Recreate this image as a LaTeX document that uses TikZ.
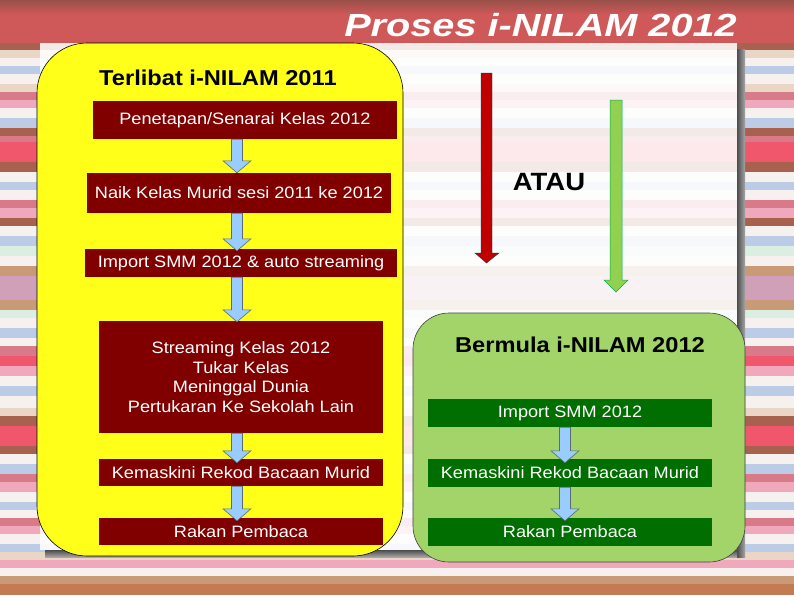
\documentclass[tikz,border=0pt]{standalone}
\usepackage{fontspec}
\setmainfont{Liberation Sans}[FakeStretch=1.1]
\newfontfamily\titlefont{Liberation Sans}[FakeStretch=1.24]
\usetikzlibrary{calc}
\usepackage{xcolor}

\definecolor{boxred}{HTML}{800000}
\definecolor{boxgreen}{HTML}{006E00}
\definecolor{panelyellow}{HTML}{FFFF1A}
\definecolor{panelgreen}{HTML}{A2D46A}
\definecolor{flowblue}{HTML}{99CCFF}
\definecolor{flowedge}{HTML}{5A6A7A}
\definecolor{bgbrown}{HTML}{985048}
\definecolor{bgred}{HTML}{CF5859}
\definecolor{sBrown}{HTML}{A8604F}
\definecolor{sBeige}{HTML}{EAD6C6}
\definecolor{sWhite}{HTML}{F6F0EE}
\definecolor{sBlue}{HTML}{BCCBE6}
\definecolor{sRose}{HTML}{D87A88}
\definecolor{sPink}{HTML}{F0A8BC}
\definecolor{sRed}{HTML}{F0566C}
\definecolor{sMint}{HTML}{DCEDE2}
\definecolor{sTan}{HTML}{C89A78}
\definecolor{sMauve}{HTML}{CFA0B8}
\definecolor{sOrange}{HTML}{C47A52}

% block arrow from one box down to the next: [overlap]{lane}{from}{to}
\newcommand{\blockdown}[4][0]{%
  \draw[flow] let \p1=(#2 |- #3.south), \p2=(#2 |- #4.north) in
    (\x1-5.5pt,\y1) -- (\x1+5.5pt,\y1) -- (\x1+5.5pt,\y2+12pt-#1pt)
    -- (\x1+14pt,\y2+12pt-#1pt) -- (\x1,\y2-#1pt) -- (\x1-14pt,\y2+12pt-#1pt)
    -- (\x1-5.5pt,\y2+12pt-#1pt) -- cycle;}

\begin{document}
\begin{tikzpicture}[x=1pt,y=-1pt,
                    redbox/.style={fill=boxred, text=white, inner sep=0pt, align=center,
                                   font=\fontsize{16.5}{19.8}\selectfont},
                    greenbox/.style={fill=boxgreen, text=white, inner sep=0pt, align=center,
                                     minimum width=284pt, minimum height=28pt,
                                     font=\fontsize{16.5}{19.8}\selectfont},
                    heading/.style={inner sep=0pt, font=\bfseries\fontsize{21.5}{25}\selectfont},
                    flow/.style={fill=flowblue, draw=flowedge, line width=0.6pt}]
    \useasboundingbox (0,0) rectangle (794,595);

    % Background
    \fill[top color=bgbrown, bottom color=bgred] (0,0) rectangle (794,14);
    \fill[bgred] (0,14) rectangle (794,43);
    \foreach \ya/\yb/\col in {43/50/sBrown, 50/58/sBeige, 58/66/sWhite, 66/74/sBlue,
        74/84/sWhite, 84/92/sBeige, 92/100/sRose, 100/108/sPink, 108/118/sWhite,
        118/128/sBlue, 128/136/sBrown, 136/142/sRose, 142/162/sRed, 162/172/sBrown,
        172/182/sWhite, 182/190/sBlue, 190/200/sWhite, 200/208/sRose, 208/218/sPink,
        218/226/sBrown, 226/236/sWhite, 236/246/sBlue, 246/256/sMint, 256/266/sWhite,
        266/276/sTan, 276/300/sMauve, 300/310/sTan, 310/318/sMint, 318/328/sWhite,
        328/338/sBlue, 338/346/sWhite, 346/356/sRose, 356/366/sRed, 366/376/sPink,
        376/386/sWhite, 386/396/sBlue, 396/408/sWhite, 408/416/sBeige, 416/426/sBrown,
        426/446/sRed, 446/454/sBrown, 454/464/sWhite, 464/474/sBlue, 474/482/sRose,
        482/492/sPink, 492/502/sWhite, 502/510/sBlue, 510/518/sWhite, 518/526/sRose,
        526/534/sPink, 534/544/sWhite, 544/552/sBlue, 552/560/sBeige, 560/568/sPink,
        568/576/sWhite, 576/584/sTan, 584/595/sOrange}
      \fill[\col] (0,\ya) rectangle (794,\yb);
    \fill[left color=black!70, right color=black!35] (737,49) rectangle (745,557);
    \fill[top color=black!70, bottom color=black!35] (45,550) rectangle (737,557);
    \fill[white, opacity=0.87] (40,43) rectangle (737,550);

    % Title
    \node[text=white, inner sep=0pt, anchor=base east,
          font=\titlefont\bfseries\itshape\fontsize{32}{38}\selectfont] (judul) at (737,36) {Proses i-NILAM 2012};

    % Panels
    \draw[fill=panelyellow, line width=0.6pt] (37,43) [rounded corners=50pt] rectangle (403,556);
    \draw[fill=panelgreen, draw=black!75, line width=0.6pt] (413,313) [rounded corners=36pt] rectangle (745,562);

    % Side arrows
    \draw[fill={rgb,255:red,192;green,0;blue,0}, draw=teal!60!black, line width=0.4pt]
      (481,73) -- (492,73) -- (492,253) -- (499,253) -- (486.5,263) -- (475,253) -- (481,253) -- cycle;
    \draw[fill={rgb,255:red,146;green,208;blue,80}, draw={rgb,255:red,0;green,176;blue,80}, line width=0.5pt]
      (610,100) -- (622,100) -- (622,280) -- (628,280) -- (616,292) -- (604,280) -- (610,280) -- cycle;

    % Place nodes
    \node[heading, anchor=west] (terlibat) at (99,78) {Terlibat i-NILAM 2011};
    \node[heading] (bermula) at (580,345) {Bermula i-NILAM 2012};
    \node[inner sep=0pt, font=\bfseries\fontsize{25}{30}\selectfont] (atau) at (549,182) {ATAU};

    \node[redbox, minimum width=304pt, minimum height=38pt] (penetapan) at (245,120) {Penetapan/Senarai Kelas 2012};
    \node[redbox, minimum width=304pt, minimum height=40pt] (naik) at (239,193) {Naik Kelas Murid sesi 2011 ke 2012};
    \node[redbox, minimum width=312pt, minimum height=28pt] (import) at (241,263) {Import SMM 2012 \& auto streaming};
    \node[redbox, minimum width=284pt, minimum height=112pt] (streaming) at (241,377)
      {Streaming Kelas 2012\\Tukar Kelas\\Meninggal Dunia\\Pertukaran Ke Sekolah Lain};
    \node[redbox, minimum width=284pt, minimum height=27pt] (kemaskini) at (241,472.5) {Kemaskini Rekod Bacaan Murid};
    \node[redbox, minimum width=284pt, minimum height=27pt] (rakan) at (241,531.5) {Rakan Pembaca};

    \node[greenbox] (importB) at (570,413) {Import SMM 2012};
    \node[greenbox] (kemaskiniB) at (570,473) {Kemaskini Rekod Bacaan Murid};
    \node[greenbox] (rakanB) at (570,532) {Rakan Pembaca};

    \coordinate (laneL) at (237,0);
    \coordinate (laneR) at (565,0);

    % Draw edges
    \blockdown{laneL}{penetapan}{naik}
    \blockdown[2]{laneL}{naik}{import}
    \blockdown[1]{laneL}{import}{streaming}
    \blockdown[4]{laneL}{streaming}{kemaskini}
    \blockdown[3]{laneL}{kemaskini}{rakan}
    \blockdown[4]{laneR}{importB}{kemaskiniB}
    \blockdown[3]{laneR}{kemaskiniB}{rakanB}
\end{tikzpicture}
\end{document}
